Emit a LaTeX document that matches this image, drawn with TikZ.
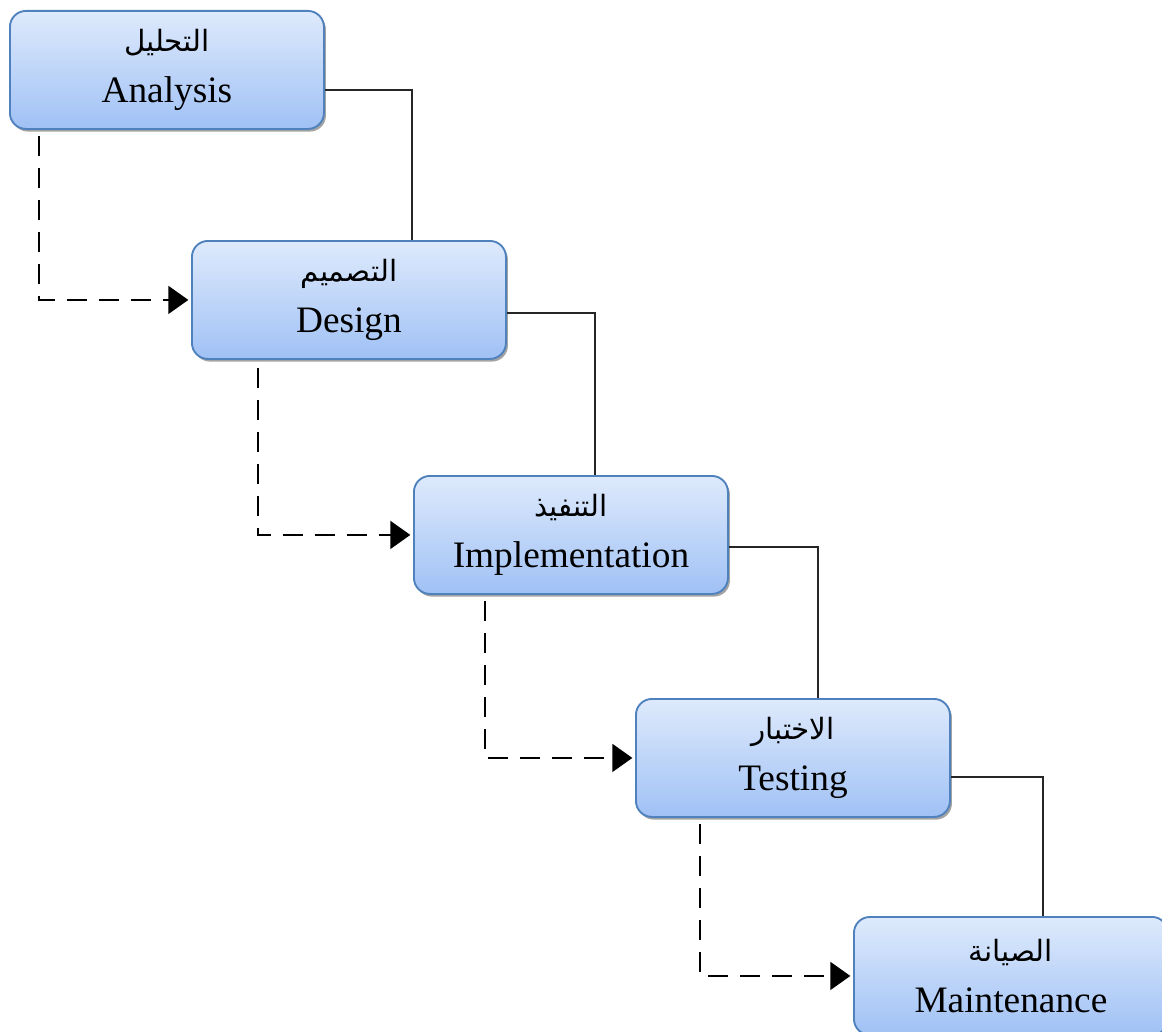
\documentclass[tikz,border=0pt]{standalone}
\usepackage{fontspec}
\setmainfont{Liberation Serif}
\newfontfamily\arabicfont[Script=Arabic]{DejaVu Sans}
\TeXXeTstate=1
\usetikzlibrary{arrows.meta,calc,shadows}
\definecolor{boxline}{RGB}{79,129,189}
\definecolor{boxtop}{RGB}{222,234,252}
\definecolor{boxbot}{RGB}{160,193,245}
\newcommand\arline[1]{{\arabicfont\fontsize{22}{38}\selectfont\beginR #1\endR}}
\begin{document}
\begin{tikzpicture}[x=0.75pt,y=-0.75pt,
  stage/.style={draw=boxline, line width=1.4pt, rounded corners=12pt,
    top color=boxtop, bottom color=boxbot,
    minimum width=235.5pt, minimum height=88.5pt, anchor=north west,
    align=center, inner sep=0pt, font=\fontsize{28}{38}\selectfont,
    drop shadow={shadow xshift=1.5pt, shadow yshift=-2pt, fill=black!60, opacity=0.6}},
  flow/.style={line width=1.3pt, black!85},
  back/.style={line width=1.2pt, dash pattern=on 15pt off 9pt,
    -{Triangle[length=15pt,width=21pt]}, shorten >=2pt}
]
\useasboundingbox (0,0) rectangle (1162,1031);
\clip (0,0) rectangle (1162,1031);

% the five phases
\node[stage] (a) at (9,10)    {\arline{التحليل}\\Analysis};
\node[stage] (b) at (191,240) {\arline{التصميم}\\Design};
\node[stage] (c) at (413,475) {\arline{التنفيذ}\\Implementation};
\node[stage] (d) at (635,698) {\arline{الاختبار}\\Testing};
\node[stage] (e) at (853,916) {\arline{الصيانة}\\Maintenance};

% solid links from each phase to the next
\draw[flow] ($(a.north east)+(0,80)$) -| ($(b.north west)+(221,0)$);
\draw[flow] ($(b.north east)+(0,73)$) -| ($(c.north west)+(182,0)$);
\draw[flow] ($(c.north east)+(0,72)$) -| ($(d.north west)+(183,0)$);
\draw[flow] ($(d.north east)+(0,79)$) -| ($(e.north west)+(190,0)$);

% dashed arrows into the next phase
\draw[back] ($(a.south west)+(30,6)$) |- (b.west);
\draw[back] ($(b.south west)+(67,8)$) |- (c.west);
\draw[back] ($(c.south west)+(72,6)$) |- (d.west);
\draw[back] ($(d.south west)+(65,6)$) |- (e.west);
\end{tikzpicture}
\end{document}
